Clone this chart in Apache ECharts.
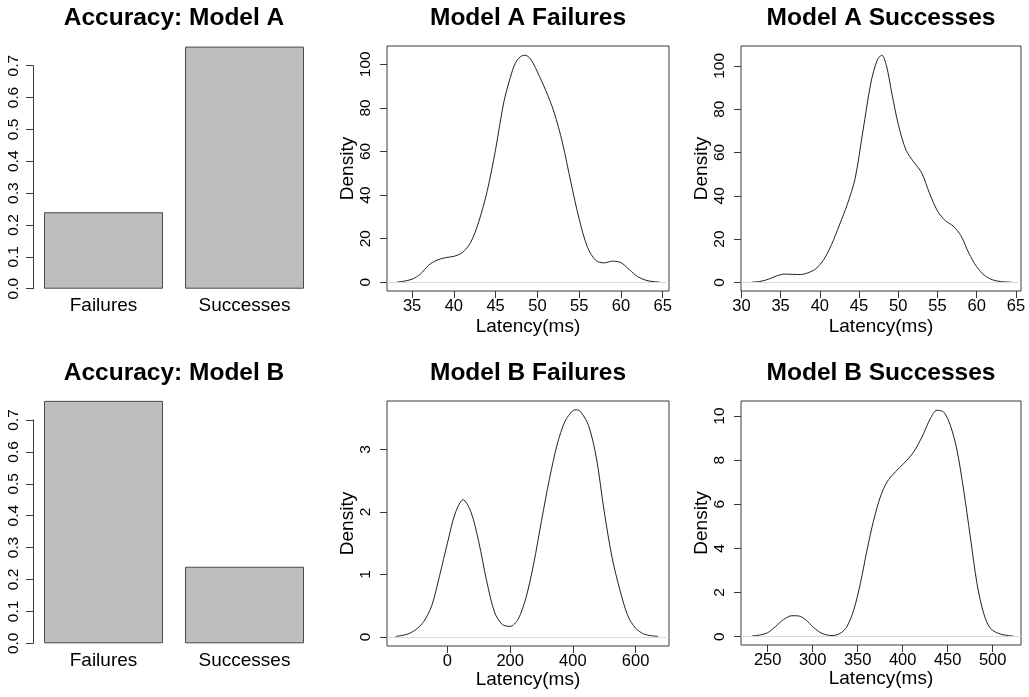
<!DOCTYPE html>
<html><head><meta charset="utf-8">
<script src="https://cdn.jsdelivr.net/npm/echarts@6/dist/echarts.min.js"></script>
<style>html,body{margin:0;padding:0;background:#fff}#c{width:1029px;height:697px}</style>
</head><body><div id="c"></div>
<script>
// ---------- data ----------
const barCategories = ['Failures', 'Successes'];
const accuracyA = [0.24, 0.76];
const accuracyB = [0.76, 0.24];

const titles = ['Accuracy: Model A', 'Model A Failures', 'Model A Successes',
                'Accuracy: Model B', 'Model B Failures', 'Model B Successes'];
const xLabel = 'Latency(ms)';
const yLabel = 'Density';

const failA_x = [33.2, 34, 35, 36, 37, 38, 39, 40, 41, 42, 43, 44, 45, 46, 47, 47.5, 48, 48.5, 49, 49.5, 50, 51, 52, 53, 54, 55, 56, 57, 58, 59, 60, 61, 62, 63, 64, 64.6];
const failA_y = [0.1, 0.5, 1.4, 3.8, 7.9, 10.2, 11.3, 11.9, 13.6, 18.2, 28, 42, 61, 83, 97, 101.5, 103.6, 104.2, 103.2, 100.5, 96.5, 88, 78, 64, 46, 29, 16, 10, 8.9, 9.7, 9.0, 5.8, 2.6, 0.9, 0.25, 0.1];

const succA_x = [31.3, 32.5, 33.5, 34.5, 35.5, 36.5, 37.5, 38.5, 39.5, 40.5, 41.5, 42.5, 43.5, 44.5, 45.5, 46.5, 47.3, 47.9, 48.5, 49.2, 50, 51, 52, 53, 54, 55, 56, 57, 58, 59, 60, 61, 62, 63, 64.5];
const succA_y = [0.05, 0.5, 1.5, 3.0, 3.8, 3.7, 3.6, 4.4, 6.3, 10.5, 17.5, 26.5, 36, 48, 70, 92, 102.5, 105, 100, 87, 73, 61, 55.5, 50.5, 41, 33, 28.5, 26, 21.5, 13.5, 7.2, 3.2, 1.2, 0.4, 0.05];

const failB_x = [-165, -150, -125, -100, -75, -50, -25, 0, 25, 50, 75, 100, 125, 150, 175, 200, 225, 250, 275, 300, 325, 350, 375, 400, 412, 425, 450, 475, 500, 525, 550, 575, 600, 625, 650, 672];
const failB_y = [0.01, 0.02, 0.05, 0.12, 0.25, 0.5, 0.98, 1.5, 1.98, 2.195, 2.0, 1.52, 0.9, 0.4, 0.2, 0.17, 0.28, 0.62, 1.17, 1.86, 2.52, 3.08, 3.45, 3.62, 3.634, 3.6, 3.38, 2.86, 2.0, 1.27, 0.75, 0.34, 0.14, 0.05, 0.02, 0.01];

const succB_x = [232.6, 241.9, 250, 258.5, 267.8, 277, 284.4, 291.9, 301, 310.4, 321.5, 330.7, 338, 345.6, 353, 360.4, 367.8, 375.2, 382.6, 391.9, 401.1, 412.2, 421.5, 430.7, 438.1, 445.6, 453, 460.4, 467.8, 475.2, 482.6, 490, 497.4, 508.5, 524];
const succB_y = [0.03, 0.08, 0.18, 0.45, 0.78, 0.95, 0.94, 0.78, 0.42, 0.15, 0.05, 0.15, 0.45, 1.2, 2.41, 3.92, 5.28, 6.33, 7.01, 7.47, 7.84, 8.37, 9.05, 9.88, 10.26, 10.18, 9.58, 8.45, 6.64, 4.52, 2.41, 1.06, 0.38, 0.12, 0.02];

const failA_xTicks = [35, 40, 45, 50, 55, 60, 65];
const failA_yTicks = [0, 20, 40, 60, 80, 100];
const succA_xTicks = [30, 35, 40, 45, 50, 55, 60, 65];
const succA_yTicks = [0, 20, 40, 60, 80, 100];
const failB_xTicks = [0, 200, 400, 600];
const failB_yTicks = [0, 1, 2, 3];
const succB_xTicks = [250, 300, 350, 400, 450, 500];
const succB_yTicks = [0, 2, 4, 6, 8, 10];

// ---------- layout ----------
const FONT = '"Liberation Sans", Arial, Helvetica, sans-serif';
const INK = '#3a3a3a';
const grids = [
  {left: 33, top: 65.7, width: 282, height: 223},
  {left: 387, top: 46, width: 282, height: 245},
  {left: 741, top: 46, width: 280, height: 245},
  {left: 33, top: 420, width: 282, height: 223.3},
  {left: 387, top: 401, width: 282, height: 245},
  {left: 741, top: 401, width: 280, height: 244}
];
const ranges = [
  null,
  {x: [32.0, 65.75], y: [-4.0, 108.4]},
  {x: [29.95, 65.65], y: [-4.0, 109.2]},
  null,
  {x: [-192.6, 706.4], y: [-0.144, 3.773]},
  {x: [220.4, 531.5], y: [-0.377, 10.68]}
];
const titleX = [174, 528, 881, 174, 528, 881];
const titleTop = [6, 6, 6, 361, 361, 361];
const nameGaps = [0, 26, 26, 0, 24, 24];

const zip = (xs, ys) => xs.map((x, i) => [x, ys[i]]);
const densities = [null, zip(failA_x, failA_y), zip(succA_x, succA_y), null, zip(failB_x, failB_y), zip(succB_x, succB_y)];
const xTicks = [null, failA_xTicks, succA_xTicks, null, failB_xTicks, succB_xTicks];
const yTicks = [null, failA_yTicks, succA_yTicks, null, failB_yTicks, succB_yTicks];

const option = {
  animation: false,
  backgroundColor: '#ffffff',
  textStyle: {fontFamily: FONT},
  title: titles.map((t, i) => ({
    text: t, left: titleX[i], top: titleTop[i], textAlign: 'center', padding: 0,
    textStyle: {fontSize: 24.5, fontWeight: 'bold', color: '#000', fontFamily: FONT}
  })),
  grid: grids.map((g, i) => Object.assign({
    show: ranges[i] !== null, borderColor: INK, borderWidth: 1, backgroundColor: 'transparent',
    containLabel: false, outerBoundsMode: 'none'
  }, g)),
  xAxis: [], yAxis: [], series: []
};

grids.forEach((g, i) => {
  if (ranges[i] === null) {
    option.xAxis.push({
      type: 'category', gridIndex: i, data: barCategories,
      axisLine: {show: false, onZero: false}, axisTick: {show: false},
      axisLabel: {fontSize: 19, color: '#000', margin: 8, fontFamily: FONT},
      splitLine: {show: false}
    });
    option.yAxis.push({
      type: 'value', gridIndex: i, min: 0, max: 0.7, interval: 0.1,
      axisLine: {show: true, onZero: false, lineStyle: {color: INK, width: 1}},
      axisTick: {show: true, inside: false, length: 7, lineStyle: {color: INK, width: 1}},
      axisLabel: {rotate: 90, margin: 11, fontSize: 15.5, color: '#000', fontFamily: FONT,
                  formatter: v => v.toFixed(1), showMinLabel: true, showMaxLabel: true},
      splitLine: {show: false}
    });
    option.series.push({
      type: 'bar', xAxisIndex: i, yAxisIndex: i,
      data: i === 0 ? accuracyA : accuracyB,
      barWidth: 119, clip: false, silent: true,
      itemStyle: {color: '#bebebe', borderColor: '#4a4a4a', borderWidth: 1},
      emphasis: {disabled: true}
    });
  } else {
    const r = ranges[i];
    option.xAxis.push({
      type: 'value', gridIndex: i, min: r.x[0], max: r.x[1],
      axisLine: {show: false, onZero: false},
      axisTick: {show: true, inside: false, length: 7, customValues: xTicks[i], lineStyle: {color: INK, width: 1}},
      axisLabel: {fontSize: 16.5, color: '#000', margin: 7, customValues: xTicks[i], fontFamily: FONT},
      splitLine: {show: false},
      name: xLabel, nameLocation: 'middle', nameGap: nameGaps[i], nameMoveOverlap: false,
      nameTextStyle: {fontSize: 19, color: '#000', fontFamily: FONT}
    });
    option.yAxis.push({
      type: 'value', gridIndex: i, min: r.y[0], max: r.y[1],
      axisLine: {show: false, onZero: false},
      axisTick: {show: true, inside: false, length: 7, customValues: yTicks[i], lineStyle: {color: INK, width: 1}},
      axisLabel: {rotate: 90, fontSize: 15.5, color: '#000', margin: 13, customValues: yTicks[i], fontFamily: FONT},
      splitLine: {show: false},
      name: yLabel, nameLocation: 'middle', nameGap: 30, nameMoveOverlap: false,
      nameTextStyle: {fontSize: 19, color: '#000', fontFamily: FONT}
    });
    option.series.push({
      type: 'line', xAxisIndex: i, yAxisIndex: i, data: densities[i],
      showSymbol: false, smooth: 0.3, silent: true,
      lineStyle: {color: '#222', width: 1},
      emphasis: {disabled: true},
      markLine: {
        silent: true, symbol: 'none', label: {show: false},
        lineStyle: {color: '#dadada', width: 1, type: 'solid'},
        emphasis: {disabled: true},
        data: [{yAxis: 0}]
      }
    });
  }
});

const chart = echarts.init(document.getElementById('c'), null, {renderer: 'canvas'});
chart.setOption(option);
</script>
</body></html>
